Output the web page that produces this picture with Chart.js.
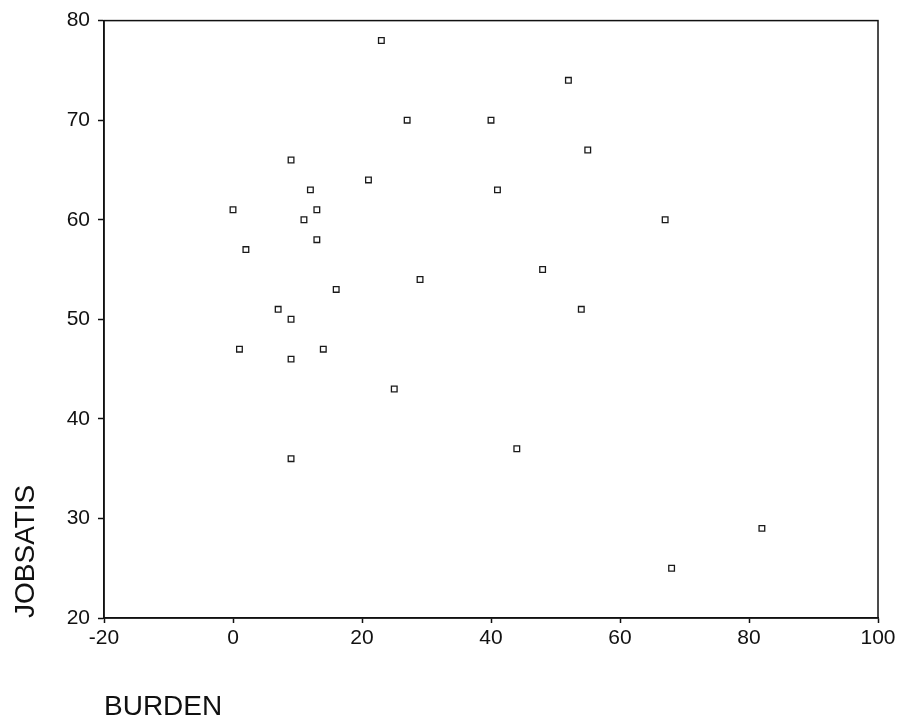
<!DOCTYPE html>
<html><head><meta charset="utf-8">
<script src="https://cdn.jsdelivr.net/npm/chart.js@4/dist/chart.umd.min.js"></script>
<style>html,body{margin:0;padding:0;background:#fff;}canvas{display:block;}</style>
</head><body>
<canvas id="c" width="901" height="722"></canvas>
<script>
// Data
const burden   = [23, 52, 40, 27, 55, 9, 21, 12, 41, 0, 13, 11, 67, 13, 2, 29, 48, 16, 7, 9, 54, 1, 14, 9, 25, 44, 9, 82, 68];
const jobsatis = [78, 74, 70, 70, 67, 66, 64, 63, 63, 61, 61, 60, 60, 58, 57, 54, 55, 53, 51, 50, 51, 47, 47, 46, 43, 37, 36, 29, 25];
const xTicks = [-20, 0, 20, 40, 60, 80, 100];
const yTicks = [20, 30, 40, 50, 60, 70, 80];
const xTitle = 'BURDEN';
const yTitle = 'JOBSATIS';

const points = burden.map((b, i) => ({ x: b, y: jobsatis[i] }));
const ink = '#111';
const tickFont = { family: "'Liberation Sans', Arial, sans-serif", size: 21 };
const titleFont = { family: "'Liberation Sans', Arial, sans-serif", size: 28, lineHeight: 1.05 };

const boxPlugin = {
  id: 'box',
  beforeDatasetsDraw(chart) {
    const { ctx, chartArea: a } = chart;
    ctx.save();
    ctx.strokeStyle = ink;
    ctx.lineWidth = 1.5;
    ctx.strokeRect(a.left, a.top, a.right - a.left, a.bottom - a.top);
    ctx.restore();
  }
};

new Chart(document.getElementById('c'), {
  type: 'scatter',
  data: {
    datasets: [{
      data: points,
      pointStyle: 'rect',
      radius: 4,
      borderWidth: 1.3,
      borderColor: '#1a1a1a',
      backgroundColor: 'rgba(255,255,255,0)'
    }]
  },
  options: {
    responsive: false,
    animation: false,
    events: [],
    layout: { padding: { top: 19, right: 23, left: 0, bottom: 0 } },
    plugins: { legend: { display: false }, tooltip: { enabled: false } },
    scales: {
      x: {
        type: 'linear',
        min: xTicks[0], max: xTicks[xTicks.length - 1],
        afterBuildTicks: s => { s.ticks = xTicks.map(v => ({ value: v })); },
        afterFit: s => { s.height = 104; },
        grid: { drawOnChartArea: false, drawTicks: true, tickLength: 5, color: ink, tickWidth: 1.5 },
        border: { display: true, color: ink, width: 1.5 },
        ticks: { color: ink, font: tickFont, padding: 3, maxRotation: 0 },
        title: { display: true, text: xTitle, align: 'start', color: ink, font: titleFont, padding: { top: 0, bottom: 0 } }
      },
      y: {
        type: 'linear',
        min: yTicks[0], max: yTicks[yTicks.length - 1],
        afterBuildTicks: s => { s.ticks = yTicks.map(v => ({ value: v })); },
        afterFit: s => { s.width = 104; },
        grid: { drawOnChartArea: false, drawTicks: true, tickLength: 6, color: ink, tickWidth: 1.5 },
        border: { display: true, color: ink, width: 1.5 },
        ticks: { color: ink, font: tickFont, padding: 8 },
        title: { display: true, text: yTitle, align: 'start', color: ink, font: titleFont, padding: { top: 12, bottom: 0 } }
      }
    }
  },
  plugins: [boxPlugin]
});
</script>
</body></html>
